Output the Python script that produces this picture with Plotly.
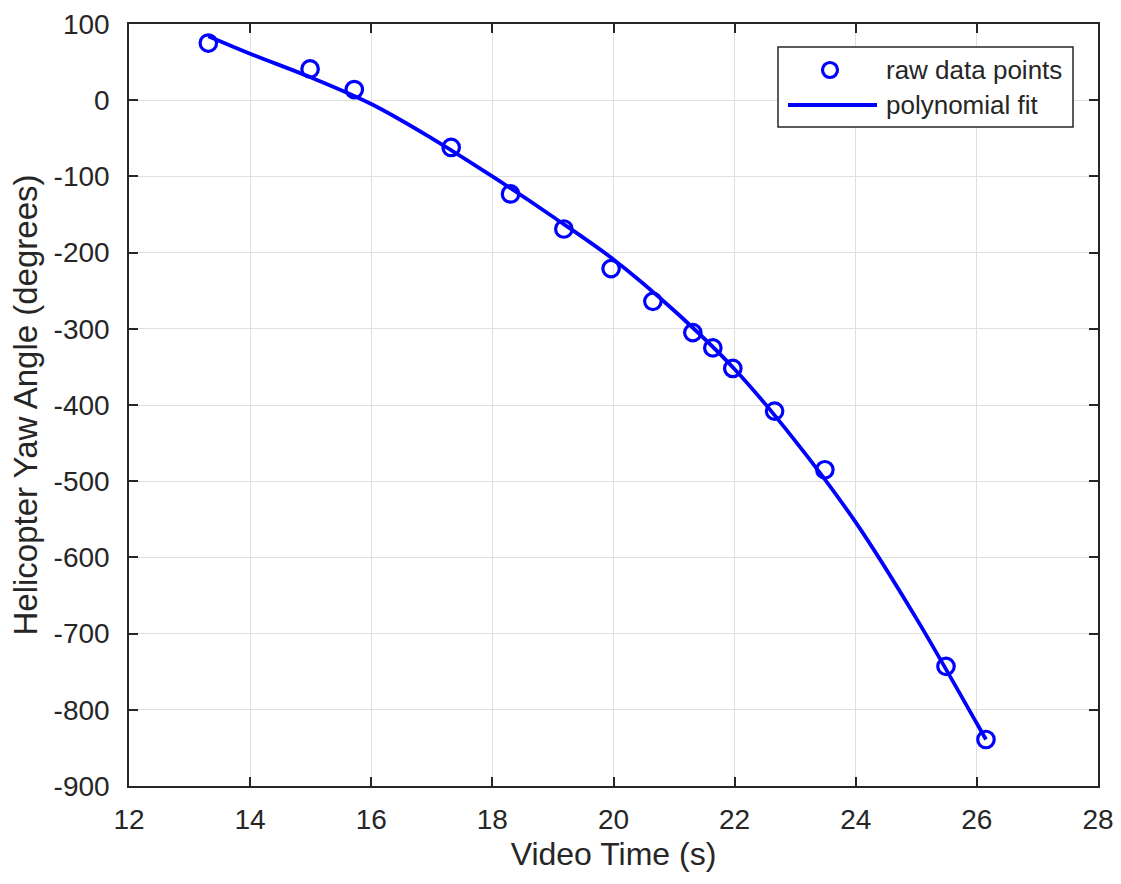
import plotly.graph_objects as go

# Raw data points
time_s = [13.31, 14.99, 15.72, 17.32, 18.30, 19.18, 19.96, 20.65, 21.31,
          21.64, 21.97, 22.66, 23.49, 25.49, 26.15]
yaw_deg = [75, 41, 14, -62, -123, -169, -221, -264, -305,
           -325, -352, -408, -485, -743, -839]

# Polynomial fit curve
fit_time = [13.31, 14, 15, 16, 17, 18, 19, 20, 21, 22, 23, 24, 25, 26, 26.15]
fit_yaw = [84, 61, 30, -5, -50, -100, -153, -209, -276, -353, -447, -554, -680, -818, -839]

x_ticks = [12, 14, 16, 18, 20, 22, 24, 26, 28]
y_ticks = [100, 0, -100, -200, -300, -400, -500, -600, -700, -800, -900]

BLUE = "#0000FF"
DARK = "#262626"
GRID = "#dfdfdf"
FONT = "Liberation Sans, Arial, sans-serif"

fig = go.Figure()
fig.add_trace(go.Scatter(
    x=fit_time, y=fit_yaw, mode="lines", name="polynomial fit",
    line=dict(color=BLUE, width=3.8, shape="spline"), showlegend=False,
))
fig.add_trace(go.Scatter(
    x=time_s, y=yaw_deg, mode="markers", name="raw data points",
    marker=dict(symbol="circle-open", size=16.5, color=BLUE, line=dict(width=3.2, color=BLUE)),
    showlegend=False,
))

L, R, T, B = 129, 23, 24, 98
W, H = 1121, 884
pw, ph = W - L - R, H - T - B

def px(xp):
    return (xp - L) / pw

def py(yp):
    return (H - B - yp) / ph

axis_common = dict(
    showline=True, linecolor=DARK, linewidth=1.5, mirror="ticks",
    ticks="inside", ticklen=9, tickwidth=1.5, tickcolor=DARK,
    showgrid=True, gridcolor=GRID, gridwidth=1, zeroline=False,
    tickfont=dict(family=FONT, size=28, color=DARK),
    automargin=False,
)

fig.update_xaxes(
    range=[12, 28], tickvals=x_ticks, ticktext=[str(v) for v in x_ticks],
    title=dict(text="Video Time (s)", font=dict(family=FONT, size=32, color=DARK), standoff=8),
    ticklabelstandoff=8,
    **axis_common,
)
fig.update_yaxes(
    range=[-900, 100], tickvals=y_ticks, ticktext=[str(v) for v in y_ticks],
    title=dict(text="Helicopter Yaw Angle (degrees)", font=dict(family=FONT, size=33, color=DARK), standoff=6),
    ticklabelstandoff=12,
    **axis_common,
)

# Legend box drawn like the original
shapes = [
    dict(type="rect", xref="paper", yref="paper", x0=px(778), x1=px(1073), y0=py(127), y1=py(47),
         line=dict(color=DARK, width=1.5), fillcolor="white", layer="above"),
    dict(type="circle", xref="paper", yref="paper", xsizemode="pixel", ysizemode="pixel",
         xanchor=px(830), yanchor=py(70), x0=-7.5, x1=7.5, y0=-7.5, y1=7.5,
         line=dict(color=BLUE, width=3.2), layer="above"),
    dict(type="line", xref="paper", yref="paper", x0=px(788), x1=px(877), y0=py(105), y1=py(105),
         line=dict(color=BLUE, width=3.8), layer="above"),
]
annotations = [
    dict(text="raw data points", xref="paper", yref="paper", x=px(884), y=py(70),
         xanchor="left", yanchor="middle", showarrow=False,
         font=dict(family=FONT, size=26, color=DARK)),
    dict(text="polynomial fit", xref="paper", yref="paper", x=px(884), y=py(105),
         xanchor="left", yanchor="middle", showarrow=False,
         font=dict(family=FONT, size=26, color=DARK)),
]

fig.update_layout(
    width=W, height=H,
    margin=dict(l=L, r=R, t=T, b=B),
    paper_bgcolor="white", plot_bgcolor="white",
    shapes=shapes, annotations=annotations,
    showlegend=False,
)

fig.write_html("out.html")
